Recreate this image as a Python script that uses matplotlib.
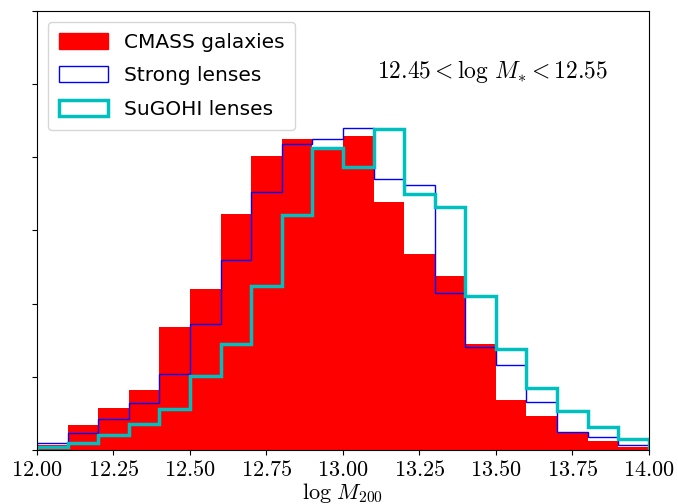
import numpy as np
import matplotlib
matplotlib.use('Agg')
import matplotlib.pyplot as plt
from matplotlib.patches import Patch
from matplotlib.ticker import FuncFormatter

plt.rcParams['mathtext.fontset'] = 'cm'

# bin edges in log M200 (bin width 0.1)
bin_edges = np.round(np.linspace(12.0, 14.0, 21), 2)

# histogram heights (arbitrary units, 1 = one y tick)
cmass = [0.07, 0.34, 0.57, 0.82, 1.68, 2.20, 3.22, 4.02, 4.25, 4.10,
         4.29, 3.39, 2.68, 2.38, 1.45, 0.68, 0.46, 0.25, 0.12, 0.04]
strong = [0.10, 0.23, 0.42, 0.64, 1.04, 1.72, 2.60, 3.52, 4.18, 4.25,
          4.40, 3.70, 3.62, 2.14, 1.41, 1.16, 0.66, 0.25, 0.18, 0.07]
sugohi = [0.04, 0.10, 0.20, 0.36, 0.56, 1.01, 1.45, 2.24, 3.21, 4.13,
          3.87, 4.39, 3.50, 3.32, 2.10, 1.38, 0.85, 0.53, 0.31, 0.15]

fig = plt.figure(figsize=(6.78, 5.04), dpi=100)
ax = fig.add_axes([0.0546, 0.107, 0.9024, 0.872])

ax.stairs(cmass, bin_edges, fill=True, color='r', linewidth=0)
ax.stairs(strong, bin_edges, color='b', linewidth=1.0)
ax.stairs(sugohi, bin_edges, color='c', linewidth=2.5)

ax.set_xlim(12.0, 14.0)
ax.set_ylim(0, 6)
ax.set_xticks([12.0, 12.25, 12.5, 12.75, 13.0, 13.25, 13.5, 13.75, 14.0])
ax.xaxis.set_major_formatter(FuncFormatter(lambda v, p: r'$%.2f$' % v))
ax.set_yticks(np.arange(0, 7))
ax.set_yticklabels([])
ax.tick_params(labelsize=16)
ax.set_xlabel(r'$\log\,M_{200}$', fontsize=16, labelpad=1)

ax.text(0.745, 0.862, r'$12.45 < \log\,M_{*} < 12.55$', transform=ax.transAxes,
        fontsize=17, ha='center', va='center')

handles = [Patch(facecolor='r', edgecolor='r', label='CMASS galaxies'),
           Patch(facecolor='none', edgecolor='b', linewidth=1.0, label='Strong lenses'),
           Patch(facecolor='none', edgecolor='c', linewidth=2.5, label='SuGOHI lenses')]
ax.legend(handles=handles, loc='upper left', fontsize=14.5, handlelength=2.4,
          handleheight=0.85, labelspacing=0.72, borderpad=0.55, borderaxespad=0.55)

fig.savefig('out.png', dpi=100)
